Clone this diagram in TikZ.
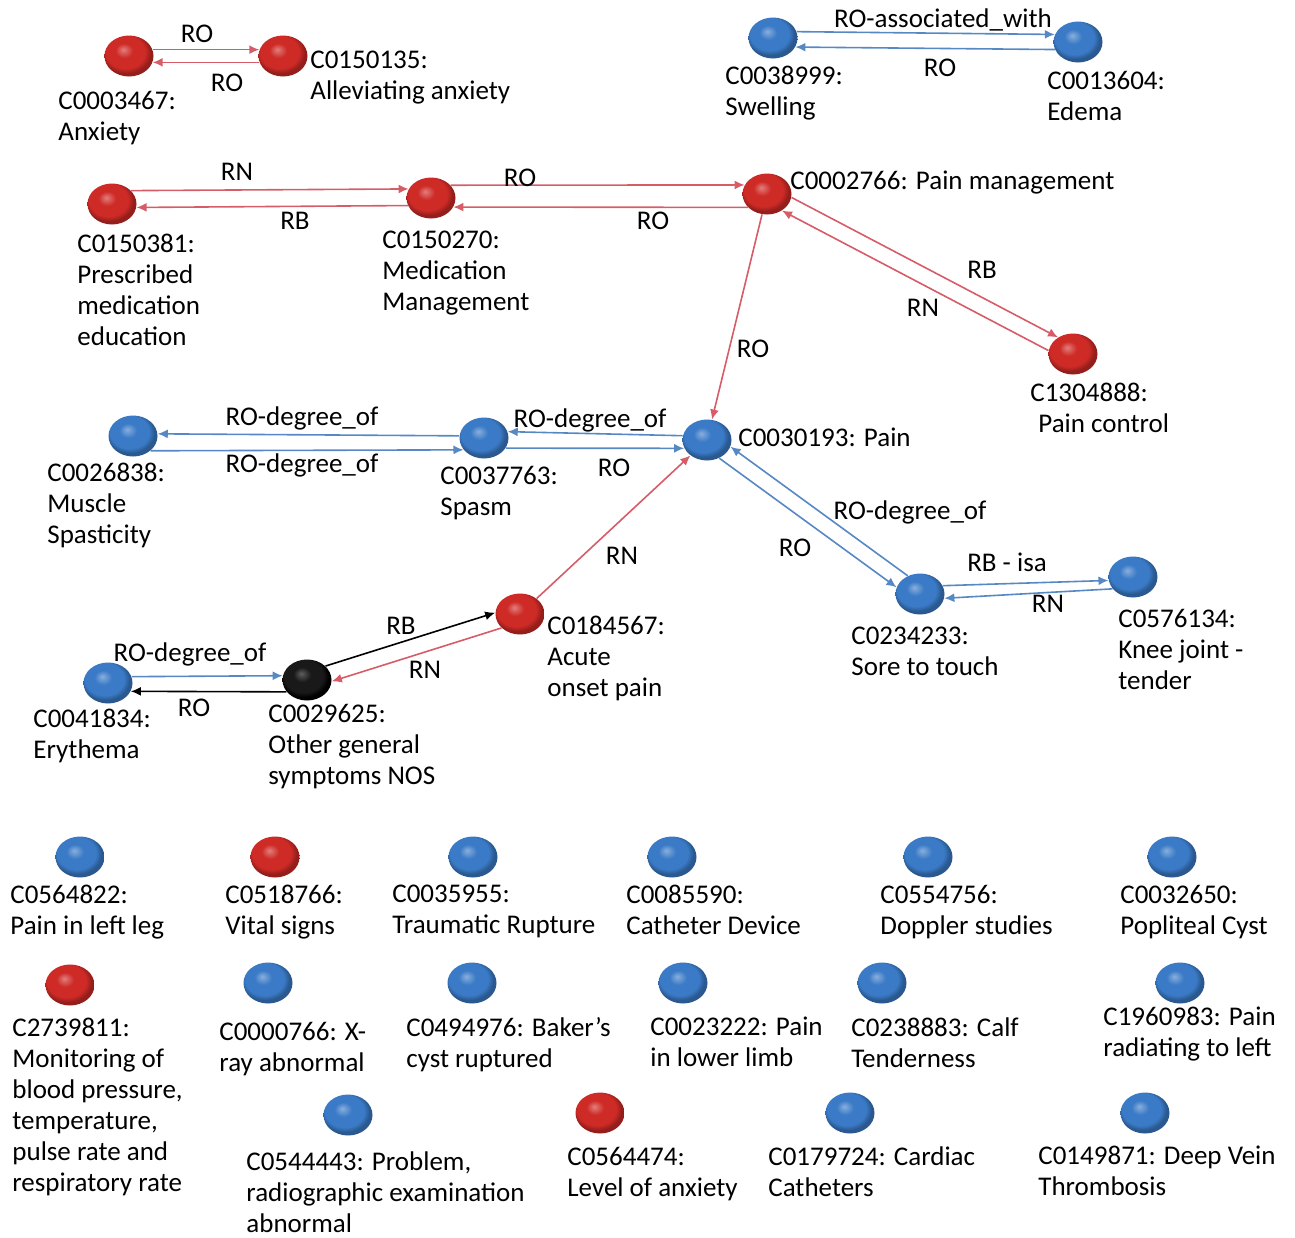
\documentclass[tikz,border=0pt]{standalone}
\usepackage{fontspec}
\setmainfont{Carlito}
\usetikzlibrary{arrows.meta,shapes.geometric}
\definecolor{conred}{RGB}{206,42,38}
\definecolor{conblue}{RGB}{58,122,198}
\definecolor{conblack}{RGB}{25,25,25}
\definecolor{linered}{RGB}{214,92,104}
\definecolor{lineblue}{RGB}{86,136,196}
\pgfdeclareradialshading{redball}{\pgfpoint{-6bp}{8bp}}{color(0bp)=(conred!60!white);
  color(9bp)=(conred); color(20bp)=(conred); color(25bp)=(conred!72!black); color(50bp)=(conred!72!black)}
\pgfdeclareradialshading{blueball}{\pgfpoint{-6bp}{8bp}}{color(0bp)=(conblue!60!white);
  color(9bp)=(conblue); color(20bp)=(conblue); color(25bp)=(conblue!72!black); color(50bp)=(conblue!72!black)}
\pgfdeclareradialshading{blackball}{\pgfpoint{-6bp}{8bp}}{color(0bp)=(conblack!70!white);
  color(9bp)=(conblack); color(20bp)=(conblack); color(25bp)=(black); color(50bp)=(black)}
\tikzset{
  concept/.style={ellipse, minimum width=24.5pt, minimum height=20.5pt, inner sep=0pt},
  redc/.style={concept, shading=redball},
  bluec/.style={concept, shading=blueball},
  blackc/.style={concept, shading=blackball},
  lbl/.style={anchor=north west, inner sep=0pt, align=left},
  rel/.style={inner sep=0pt},
  arr/.style={line width=0.8pt, -{Latex[length=5pt,width=4.5pt]}},
  redarr/.style={arr, draw=linered, fill=linered},
  bluearr/.style={arr, draw=lineblue, fill=lineblue},
  blackarr/.style={arr, draw=black, fill=black}
}
\begin{document}
\begin{tikzpicture}[x=0.5pt, y=-0.5pt, font=\fontsize{13.5}{15.5}\selectfont]
  \useasboundingbox (0,0) rectangle (1295,1237);
  % connected concepts
  \node [redc] (anx) at (129,56) {};
  \node [redc] (alv) at (283,56) {};
  \node [bluec] (swl) at (773,38) {};
  \node [bluec] (edm) at (1078,42) {};
  \node [redc] (pre) at (112,204) {};
  \node [redc] (med) at (431,198) {};
  \node [redc] (pmg) at (767,194) {};
  \node [redc] (pct) at (1073,354) {};
  \node [bluec] (msp) at (133,436) {};
  \node [bluec] (spa) at (484,438) {};
  \node [bluec] (pain) at (707,440) {};
  \node [redc] (acu) at (520,614) {};
  \node [bluec] (sore) at (920,594) {};
  \node [bluec] (knee) at (1133,577) {};
  \node [blackc] (oth) at (307,680) {};
  \node [bluec] (ery) at (108,683) {};
  % labels
  \node [lbl] (anx-l) at (58,91) {C0003467:\\Anxiety};
  \node [lbl] (alv-l) at (310,51) {C0150135:\\Alleviating anxiety};
  \node [lbl] (swl-l) at (725,66) {C0038999:\\Swelling};
  \node [lbl] (edm-l) at (1047,71) {C0013604:\\Edema};
  \node [lbl] (pre-l) at (77,234) {C0150381:\\Prescribed\\medication\\education};
  \node [lbl] (med-l) at (382,231) {C0150270:\\Medication\\Management};
  \node [lbl] (pmg-l) at (790,171) {C0002766: Pain management};
  \node [lbl] (pct-l) at (1030,383) {C1304888:\\\hspace*{4pt}Pain control};
  \node [lbl] (pain-l) at (738,428) {C0030193: Pain};
  \node [lbl] (msp-l) at (47,463) {C0026838:\\Muscle\\Spasticity};
  \node [lbl] (spa-l) at (440,466) {C0037763:\\Spasm};
  \node [lbl] (acu-l) at (547,616) {C0184567:\\Acute\\onset pain};
  \node [lbl] (sore-l) at (851,627) {C0234233:\\Sore to touch};
  \node [lbl] (knee-l) at (1118,609) {C0576134:\\Knee joint -\\tender};
  \node [lbl] (oth-l) at (268,704) {C0029625:\\Other general\\symptoms NOS};
  \node [lbl] (ery-l) at (33,709) {C0041834:\\Erythema};
  % relations
  \draw [redarr] (anx.15) -- (alv.165);
  \draw [redarr] (alv.-165) -- (anx.-15);
  \node [rel] at (197,34) {RO};
  \node [rel] at (227,83) {RO};
  \draw [bluearr] (swl.15) -- (edm.162);
  \draw [bluearr] (edm.-162) -- (swl.-22);
  \node [rel] at (943,20) {RO-associated\_with};
  \node [rel] at (940,68) {RO};
  \draw [redarr] (pre.35) -- (med.158);
  \draw [redarr] (med.-162) -- (pre.-8);
  \node [rel] at (237,172) {RN};
  \node [rel] at (295,221) {RB};
  \draw [redarr] (med.33) -- (pmg.158);
  \draw [redarr] (pmg.-145) -- (med.-22);
  \node [rel] at (520,178) {RO};
  \node [rel] at (653,221) {RO};
  \draw [redarr] (pmg.-8) -- (pct.132);
  \draw [redarr] (pct.172) -- (pmg.-48);
  \node [rel] at (982,270) {RB};
  \node [rel] at (923,308) {RN};
  \draw [redarr] (pmg) -- (pain);
  \node [rel] at (753,349) {RO};
  \draw [bluearr] (spa.175) -- (msp.5);
  \draw [bluearr] (msp.-40) -- (spa.-150);
  \node [rel] at (302,418) {RO-degree\_of};
  \node [rel] at (302,465) {RO-degree\_of};
  \draw [bluearr] (pain.170) -- (spa.15);
  \draw [bluearr] (spa.-25) -- (pain.-160);
  \node [rel] at (590,420) {RO-degree\_of};
  \node [rel] at (614,468) {RO};
  \draw [redarr] (acu) -- (pain);
  \node [rel] at (622,556) {RN};
  \draw [bluearr] (pain.-56) -- (sore.164);
  \draw [bluearr] (sore.124) -- (pain.-16);
  \node [rel] at (795,548) {RO};
  \node [rel] at (910,512) {RO-degree\_of};
  \draw [bluearr] (sore.20) -- (knee.-172);
  \draw [bluearr] (knee.-150) -- (sore.-10);
  \node [rel] at (1007,562) {RB - isa};
  \node [rel] at (1048,604) {RN};
  \draw [blackarr] (oth.37) -- (acu.177);
  \draw [redarr] (acu.217) -- (oth.-3);
  \node [rel] at (401,626) {RB};
  \node [rel] at (425,670) {RN};
  \draw [bluearr] (ery.15) -- (oth.170);
  \draw [blackarr] (oth.-150) -- (ery.-20);
  \node [rel] at (190,654) {RO-degree\_of};
  \node [rel] at (194,708) {RO};
  % isolated concepts
  \node [bluec] (c1) at (80,857) {};
  \node [redc] (c2) at (275,857) {};
  \node [bluec] (c3) at (473,857) {};
  \node [bluec] (c4) at (672,857) {};
  \node [bluec] (c5) at (928,857) {};
  \node [bluec] (c6) at (1172,857) {};
  \node [redc] (c7) at (70,985) {};
  \node [bluec] (c8) at (268,983) {};
  \node [bluec] (c9) at (472,983) {};
  \node [bluec] (c10) at (683,983) {};
  \node [bluec] (c11) at (882,983) {};
  \node [bluec] (c12) at (1180,983) {};
  \node [bluec] (c13) at (348,1115) {};
  \node [redc] (c14) at (600,1113) {};
  \node [bluec] (c15) at (850,1113) {};
  \node [bluec] (c16) at (1145,1113) {};
  \node [lbl] (c1-l) at (10,885) {C0564822:\\Pain in left leg};
  \node [lbl] (c2-l) at (225,885) {C0518766:\\Vital signs};
  \node [lbl] (c3-l) at (392,885) {C0035955:\\Traumatic Rupture};
  \node [lbl] (c4-l) at (626,885) {C0085590:\\Catheter Device};
  \node [lbl] (c5-l) at (880,885) {C0554756:\\Doppler studies};
  \node [lbl] (c6-l) at (1120,885) {C0032650:\\Popliteal Cyst};
  \node [lbl] (c7-l) at (12,1018) {C2739811:\\Monitoring of\\blood pressure,\\temperature,\\pulse rate and\\respiratory rate};
  \node [lbl] (c8-l) at (219,1022) {C0000766: X-\\ray abnormal};
  \node [lbl] (c9-l) at (406,1017) {C0494976: Baker’s\\cyst ruptured};
  \node [lbl] (c10-l) at (650,1017) {C0023222: Pain\\in lower limb};
  \node [lbl] (c11-l) at (851,1017) {C0238883: Calf\\Tenderness};
  \node [lbl] (c12-l) at (1103,1007) {C1960983: Pain\\radiating to left};
  \node [lbl] (c13-l) at (246,1151) {C0544443: Problem,\\radiographic examination\\abnormal};
  \node [lbl] (c14-l) at (567,1147) {C0564474:\\Level of anxiety};
  \node [lbl] (c15-l) at (768,1146) {C0179724: Cardiac\\Catheters};
  \node [lbl] (c16-l) at (1038,1146) {C0149871: Deep Vein\\Thrombosis};
\end{tikzpicture}
\end{document}
